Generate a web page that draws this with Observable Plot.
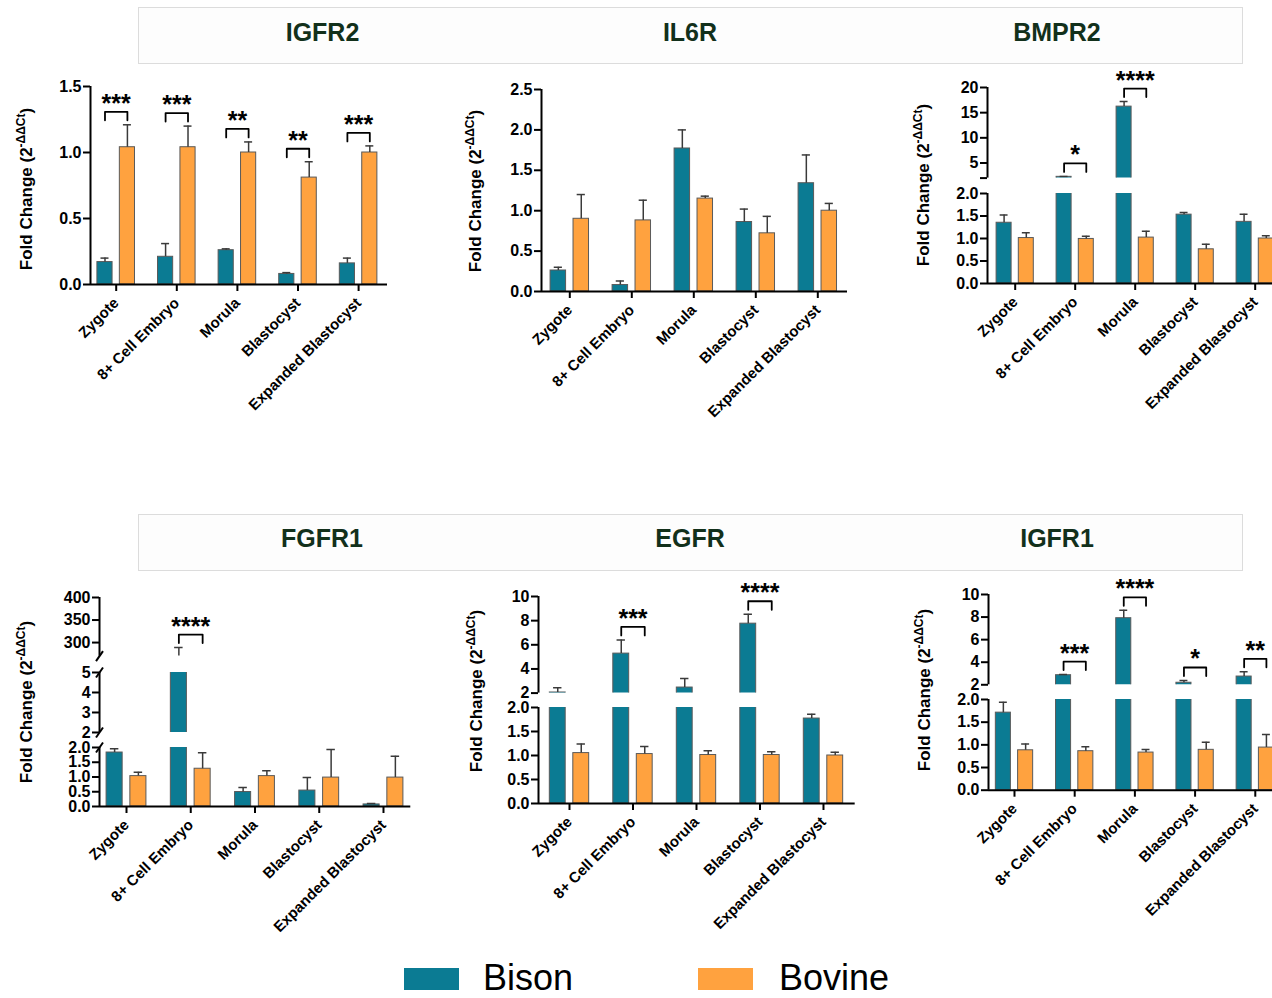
<!DOCTYPE html>
<html>
<head>
<meta charset="utf-8">
<script src="https://cdn.jsdelivr.net/npm/d3@7"></script>
<script src="https://cdn.jsdelivr.net/npm/@observablehq/plot@0.6"></script>
<style>
  html, body { margin: 0; padding: 0; background: #fff; }
  body { width: 1272px; height: 998px; overflow: hidden; position: relative; font-family: "Liberation Sans", Arial, sans-serif; }
  .band { position: absolute; border: 1px solid #dcdcdc; background: #fdfdfd; box-sizing: border-box; }
  .gene { position: absolute; font-weight: bold; font-size: 25px; line-height: 1; color: #12301b; transform: translate(-50%, -50%); white-space: nowrap; }
  .sw { position: absolute; width: 55px; height: 22px; }
  .lg { position: absolute; font-size: 36px; line-height: 1; color: #000; white-space: nowrap; }
</style>
</head>
<body>
<div id="root"></div>
<script>
// ---------------- DATA ----------------
const stages = ["Zygote", "8+ Cell Embryo", "Morula", "Blastocyst", "Expanded Blastocyst"];
const speciesNames = ["Bison", "Bovine"];
const speciesColors = ["#0b7b93", "#ffa23f"];

// IGFR2
const igfr2Bison = [0.17, 0.21, 0.26, 0.08, 0.16];
const igfr2BisonSem = [0.03, 0.10, 0.01, 0.01, 0.04];
const igfr2Bovine = [1.04, 1.04, 1.00, 0.81, 1.00];
const igfr2BovineSem = [0.17, 0.16, 0.08, 0.12, 0.05];
const igfr2Sig = ["***", "***", "**", "**", "***"];

// IL6R
const il6rBison = [0.26, 0.08, 1.77, 0.86, 1.34];
const il6rBisonSem = [0.04, 0.05, 0.23, 0.16, 0.35];
const il6rBovine = [0.90, 0.88, 1.15, 0.72, 1.00];
const il6rBovineSem = [0.30, 0.25, 0.03, 0.21, 0.09];
const il6rSig = ["", "", "", "", ""];

// BMPR2
const bmpr2Bison = [1.35, 2.25, 16.2, 1.53, 1.37];
const bmpr2BisonSem = [0.17, 0.08, 1.0, 0.05, 0.17];
const bmpr2Bovine = [1.01, 0.99, 1.02, 0.76, 1.00];
const bmpr2BovineSem = [0.12, 0.06, 0.14, 0.11, 0.06];
const bmpr2Sig = ["", "*", "****", "", ""];

// FGFR1
const fgfr1Bison = [1.83, 262, 0.49, 0.54, 0.07];
const fgfr1BisonSem = [0.13, 27, 0.15, 0.44, 0.03];
const fgfr1Bovine = [1.03, 1.28, 1.03, 0.98, 0.98];
const fgfr1BovineSem = [0.13, 0.54, 0.18, 0.95, 0.72];
const fgfr1Sig = ["", "****", "", "", ""];

// EGFR
const egfrBison = [2.05, 5.27, 2.46, 7.75, 1.77];
const egfrBisonSem = [0.40, 1.13, 0.74, 0.78, 0.09];
const egfrBovine = [1.05, 1.03, 1.01, 1.01, 1.00];
const egfrBovineSem = [0.19, 0.16, 0.09, 0.07, 0.07];
const egfrSig = ["", "***", "", "****", ""];

// IGFR1
const igfr1Bison = [1.71, 2.85, 7.9, 2.18, 2.73];
const igfr1BisonSem = [0.23, 0.05, 0.70, 0.20, 0.42];
const igfr1Bovine = [0.88, 0.86, 0.83, 0.89, 0.94];
const igfr1BovineSem = [0.14, 0.10, 0.07, 0.17, 0.29];
const igfr1Sig = ["", "***", "****", "*", "**"];

// Y-axis segments (domain, ticks, tick labels), top segment first
const lowTicks = [0, 0.5, 1, 1.5, 2];
const lowLabels = ["0.0", "0.5", "1.0", "1.5", "2.0"];
const igfr2Ticks = [0, 0.5, 1, 1.5];
const igfr2Labels = ["0.0", "0.5", "1.0", "1.5"];
const il6rTicks = [0, 0.5, 1, 1.5, 2, 2.5];
const il6rLabels = ["0.0", "0.5", "1.0", "1.5", "2.0", "2.5"];
const bmpr2UpTicks = [2, 5, 10, 15, 20];
const bmpr2UpLabels = ["", "5", "10", "15", "20"];
const fgfr1TopTicks = [300, 350, 400];
const fgfr1TopLabels = ["300", "350", "400"];
const fgfr1MidTicks = [2, 3, 4, 5];
const fgfr1MidLabels = ["2", "3", "4", "5"];
const upTicks10 = [2, 4, 6, 8, 10];
const upLabels10 = ["2", "4", "6", "8", "10"];

const yTitleMain = "Fold Change (2";
const yTitleSup = "-ΔΔCt";

const panels = [
  {gene: "IGFR2", bison: igfr2Bison, bisonSem: igfr2BisonSem, bovine: igfr2Bovine, bovineSem: igfr2BovineSem, sig: igfr2Sig,
   axes: [{domain: [0, 1.5], ticks: igfr2Ticks, labels: igfr2Labels}]},
  {gene: "IL6R", bison: il6rBison, bisonSem: il6rBisonSem, bovine: il6rBovine, bovineSem: il6rBovineSem, sig: il6rSig,
   axes: [{domain: [0, 2.5], ticks: il6rTicks, labels: il6rLabels}]},
  {gene: "BMPR2", bison: bmpr2Bison, bisonSem: bmpr2BisonSem, bovine: bmpr2Bovine, bovineSem: bmpr2BovineSem, sig: bmpr2Sig,
   axes: [{domain: [2, 20], ticks: bmpr2UpTicks, labels: bmpr2UpLabels}, {domain: [0, 2], ticks: lowTicks, labels: lowLabels}]},
  {gene: "FGFR1", bison: fgfr1Bison, bisonSem: fgfr1BisonSem, bovine: fgfr1Bovine, bovineSem: fgfr1BovineSem, sig: fgfr1Sig,
   axes: [{domain: [270, 400], ticks: fgfr1TopTicks, labels: fgfr1TopLabels}, {domain: [2, 5], ticks: fgfr1MidTicks, labels: fgfr1MidLabels}, {domain: [0, 2], ticks: lowTicks, labels: lowLabels}], slashes: true},
  {gene: "EGFR", bison: egfrBison, bisonSem: egfrBisonSem, bovine: egfrBovine, bovineSem: egfrBovineSem, sig: egfrSig,
   axes: [{domain: [2, 10], ticks: upTicks10, labels: upLabels10}, {domain: [0, 2], ticks: lowTicks, labels: lowLabels}]},
  {gene: "IGFR1", bison: igfr1Bison, bisonSem: igfr1BisonSem, bovine: igfr1Bovine, bovineSem: igfr1BovineSem, sig: igfr1Sig,
   axes: [{domain: [2, 10], ticks: upTicks10, labels: upLabels10}, {domain: [0, 2], ticks: lowTicks, labels: lowLabels}]}
];

// ---------------- LAYOUT (page pixels) ----------------
const layout = {
  IGFR2: {axisX: 90, axisRight: 387, tick0: 115.7, step: 60.6, title: [322.5, 31.5], yTitle: [32, 189], segs: [[86, 284]]},
  IL6R:  {axisX: 540.7, axisRight: 846.7, tick0: 569, step: 62, title: [690, 31.5], yTitle: [481, 191], segs: [[89, 291]]},
  BMPR2: {axisX: 987.3, axisRight: 1290, tick0: 1015, step: 60, title: [1057, 31.5], yTitle: [929, 185], segs: [[86.7, 177.3], [192.7, 282.7]]},
  FGFR1: {axisX: 98.7, axisRight: 410, tick0: 125.7, step: 64.25, title: [322, 537.5], yTitle: [32, 702], segs: [[596.7, 655.3], [671.7, 731.7], [746.7, 805.7]]},
  EGFR:  {axisX: 538.3, axisRight: 855, tick0: 569.3, step: 63.5, title: [690, 537.5], yTitle: [482, 691], segs: [[595.7, 692.3], [707.3, 803.3]]},
  IGFR1: {axisX: 988.3, axisRight: 1290, tick0: 1014.3, step: 60.2, title: [1057, 537.5], yTitle: [930, 690], segs: [[594, 684.3], [699.3, 790]]}
};
const centerOff = {Bison: -0.185, Bovine: 0.185};
const barHalf = 0.125, capHalf = 0.066;
const bracketGap = 13, legLen = 8.5;

// ---------------- RENDER ----------------
const root = document.getElementById("root");
function place(el, left, top) {
  el.style.position = "absolute";
  el.style.left = left + "px";
  el.style.top = top + "px";
  root.appendChild(el);
}

// header bands
for (const top of [7, 514]) {
  const b = document.createElement("div");
  b.className = "band";
  b.style.left = "138px"; b.style.top = top + "px"; b.style.width = "1105px"; b.style.height = "57px";
  root.appendChild(b);
}

const svgNS = "http://www.w3.org/2000/svg";
const overlay = document.createElementNS(svgNS, "svg");
overlay.setAttribute("width", 1272); overlay.setAttribute("height", 998);
overlay.style.position = "absolute"; overlay.style.left = "0px"; overlay.style.top = "0px";
overlay.style.fontFamily = "'Liberation Sans', Arial, sans-serif";
root.appendChild(overlay);

for (const p of panels) {
  const L = layout[p.gene];
  // gene title
  const t = document.createElement("div");
  t.className = "gene"; t.textContent = p.gene;
  t.style.left = L.title[0] + "px"; t.style.top = L.title[1] + "px";
  root.appendChild(t);
  // y title
  const yt = document.createElementNS(svgNS, "text");
  yt.setAttribute("transform", `translate(${L.yTitle[0]},${L.yTitle[1]}) rotate(-90)`);
  yt.setAttribute("text-anchor", "middle");
  yt.setAttribute("font-size", 17);
  yt.setAttribute("font-weight", "bold");
  yt.appendChild(document.createTextNode(yTitleMain));
  const sup = document.createElementNS(svgNS, "tspan");
  sup.setAttribute("baseline-shift", "super");
  sup.setAttribute("font-size", 12);
  sup.textContent = yTitleSup;
  yt.appendChild(sup);
  const close = document.createElementNS(svgNS, "tspan");
  close.textContent = ")";
  yt.appendChild(close);
  overlay.appendChild(yt);

  const rows = stages.flatMap((s, i) => [
    {i, sp: "Bison", value: p.bison[i], sem: p.bisonSem[i]},
    {i, sp: "Bovine", value: p.bovine[i], sem: p.bovineSem[i]}
  ]);
  const brackets = p.sig.map((s, i) => ({i, s, top: Math.max(p.bison[i] + p.bisonSem[i], p.bovine[i] + p.bovineSem[i])})).filter(d => d.s);
  const segFor = v => {
    for (let k = 0; k < p.axes.length; k++) {
      const [lo, hi] = p.axes[k].domain;
      if (v >= lo && v <= hi) return k;
    }
    return 0;
  };

  const n = p.axes.length;
  const xLo = (L.axisX - L.tick0) / L.step, xHi = (L.axisRight - L.tick0) / L.step;
  p.axes.forEach((ax, k) => {
    const isBottom = k === n - 1;
    const [top, bottom] = L.segs[k];
    const [lo, hi] = ax.domain;
    const mT = 50, mB = isBottom ? 160 : 6, mL = 70, mR = 14;
    const pyu = (bottom - top) / (hi - lo);
    const mine = brackets.filter(d => segFor(d.top) === k);
    const bracketPts = mine.flatMap(d => {
      const yT = d.top + bracketGap / pyu, yL = d.top + (bracketGap - legLen) / pyu;
      return [
        {z: d.i, x: d.i + centerOff.Bison, y: yL}, {z: d.i, x: d.i + centerOff.Bison, y: yT},
        {z: d.i, x: d.i + centerOff.Bovine, y: yT}, {z: d.i, x: d.i + centerOff.Bovine, y: yL}
      ];
    });
    const marks = [
      Plot.rectY(rows, {x1: d => d.i + centerOff[d.sp] - barHalf, x2: d => d.i + centerOff[d.sp] + barHalf, y1: 0, y2: "value", fill: "sp", stroke: "#5a5a5a", strokeWidth: 1, clip: true}),
      Plot.ruleX(rows, {x: d => d.i + centerOff[d.sp], y1: "value", y2: d => d.value + d.sem, stroke: "#3a3a3a", strokeWidth: 1.5, clip: true}),
      Plot.ruleY(rows, {y: d => d.value + d.sem, x1: d => d.i + centerOff[d.sp] - capHalf, x2: d => d.i + centerOff[d.sp] + capHalf, stroke: "#3a3a3a", strokeWidth: 1.5, clip: true}),
      Plot.ruleX([xLo], {y1: lo, y2: hi, stroke: "black", strokeWidth: 2}),
      Plot.axisY({ticks: ax.ticks, tickFormat: d => ax.labels[ax.ticks.indexOf(d)], tickSize: 7, tickPadding: 2, strokeWidth: 2, fontSize: 16}),
      Plot.line(bracketPts, {x: "x", y: "y", z: "z", stroke: "black", strokeWidth: 1.8}),
      Plot.text(mine, {x: "i", y: d => d.top + bracketGap / pyu, text: "s", dy: 0, lineAnchor: "bottom", fontSize: 25, fontWeight: "bold", ariaLabel: "significance"})
    ];
    if (isBottom) {
      marks.push(Plot.ruleY([lo], {x1: xLo, x2: xHi, stroke: "black", strokeWidth: 2}));
      marks.push(Plot.axisX({ticks: stages.map((s, i) => i), tickFormat: i => stages[i], tickRotate: -45, tickSize: 7, tickPadding: 9, strokeWidth: 2}));
    }
    if (p.slashes) {
      const sx = 3.5 / L.step, sy = 5 / pyu;
      const ends = [];
      if (k > 0) ends.push(hi);
      if (!isBottom) ends.push(lo);
      marks.push(Plot.link(ends, {x1: xLo - sx, x2: xLo + sx, y1: v => v - sy, y2: v => v + sy, stroke: "black", strokeWidth: 2}));
    }
    const svg = Plot.plot({
      width: L.axisRight - L.axisX + mL + mR,
      height: bottom - top + mT + mB,
      marginLeft: mL, marginRight: mR, marginTop: mT, marginBottom: mB,
      x: {type: "linear", domain: [xLo, xHi], ...(isBottom ? {} : {axis: null})},
      y: {domain: [lo, hi]},
      color: {domain: speciesNames, range: speciesColors},
      style: {fontFamily: "'Liberation Sans', Arial, sans-serif", fontSize: "15px", fontWeight: "bold", background: "transparent", overflow: "visible", color: "black"},
      marks
    });
    d3.select(svg).selectAll('g[aria-label="significance"] text').style("letter-spacing", "0.5px");
    place(svg, L.axisX - mL, top - mT);
  });
}

// legend
const legendItems = [
  {name: speciesNames[0], color: speciesColors[0], sw: [404, 968], tx: [483, 960]},
  {name: speciesNames[1], color: speciesColors[1], sw: [698, 968], tx: [779, 960]}
];
for (const it of legendItems) {
  const s = document.createElement("div");
  s.className = "sw"; s.style.background = it.color;
  s.style.left = it.sw[0] + "px"; s.style.top = it.sw[1] + "px";
  root.appendChild(s);
  const l = document.createElement("div");
  l.className = "lg"; l.textContent = it.name;
  l.style.left = it.tx[0] + "px"; l.style.top = it.tx[1] + "px";
  root.appendChild(l);
}
</script>
</body>
</html>
